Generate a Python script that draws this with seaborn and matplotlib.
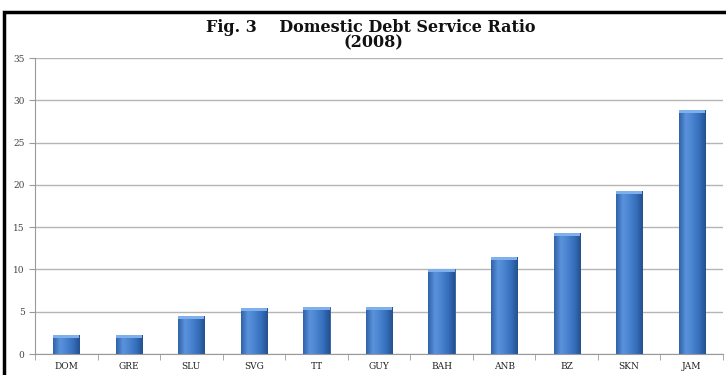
import matplotlib
matplotlib.use("Agg")
import matplotlib.pyplot as plt
import matplotlib.patches as mpatches
from matplotlib.colors import LinearSegmentedColormap
import numpy as np
import seaborn as sns
import pandas as pd

# data
countries = ["DOM", "GRE", "SLU", "SVG", "TT", "GUY", "BAH", "ANB", "BZ", "SKN", "JAM"]
ratios = [2.2, 2.2, 4.5, 5.4, 5.5, 5.6, 10.0, 11.5, 14.3, 19.3, 28.9]
y_ticks = [0, 5, 10, 15, 20, 25, 30, 35]

df = pd.DataFrame({"country": countries, "ratio": ratios})

sns.set_style("white")
plt.rcParams["font.family"] = ["DejaVu Serif"]

fig = plt.figure(figsize=(7.26, 3.75), dpi=100)
ax = fig.add_axes([35 / 726, 21 / 375, 688 / 726, 296 / 375])

sns.barplot(data=df, x="country", y="ratio", color="#3d78c6", width=0.42,
            saturation=1, edgecolor="#2b5c9e", linewidth=0.6, ax=ax)

ax.set_ylim(0, 35)
ax.set_yticks(y_ticks)
ax.set_xlim(-0.5, len(countries) - 0.5)

# glossy gradient on the bars, like the Excel original
shade = LinearSegmentedColormap.from_list(
    "shade", ["#2f62a8", "#5a92dc", "#4a84d0", "#3570bd", "#25508e"])
grad = np.linspace(0, 1, 64).reshape(1, -1)
for bar in ax.patches:
    x0, w, h = bar.get_x(), bar.get_width(), bar.get_height()
    im = ax.imshow(grad, cmap=shade, aspect="auto", extent=(x0, x0 + w, 0, h),
                   zorder=bar.get_zorder() + 0.1)
    im.set_clip_path(bar)
    cap = mpatches.Rectangle((x0, h - 0.35), w, 0.35, facecolor="#7fb0ec",
                             edgecolor="none", zorder=bar.get_zorder() + 0.2)
    ax.add_patch(cap)
ax.set_xlim(-0.5, len(countries) - 0.5)
ax.set_ylim(0, 35)

ax.yaxis.grid(True, color="#b5b5b5", linewidth=1)
ax.set_axisbelow(True)
ax.set_xlabel("")
ax.set_ylabel("")
for side in ["top", "right"]:
    ax.spines[side].set_visible(False)
ax.spines["left"].set_color("#9a9a9a")
ax.spines["bottom"].set_color("#9a9a9a")
ax.tick_params(axis="y", length=4, color="#9a9a9a", labelsize=6.5, labelcolor="#444444", left=True)
ax.tick_params(axis="x", length=0, labelsize=6.5, labelcolor="#222222", pad=6)
# small tick marks between categories
ax.set_xticks([i + 0.5 for i in range(-1, len(countries))], minor=True)
ax.tick_params(axis="x", which="minor", length=4, color="#9a9a9a", bottom=True)

fig.text(0.51, 1 - 27 / 375, "Fig. 3    Domestic Debt Service Ratio",
         ha="center", va="center", fontsize=11.5, fontweight="bold", color="#111111")
fig.text(0.515, 1 - 43 / 375, "(2008)",
         ha="center", va="center", fontsize=11.5, fontweight="bold", color="#111111")

# black frame around the chart
frame = mpatches.Rectangle((4 / 726, -0.05), 1.0, 1 - 12 / 375 + 0.05,
                           transform=fig.transFigure, fill=False,
                           edgecolor="black", linewidth=2.5, clip_on=False)
fig.patches.append(frame)

fig.savefig("out.png", dpi=100)
plt.close(fig)
